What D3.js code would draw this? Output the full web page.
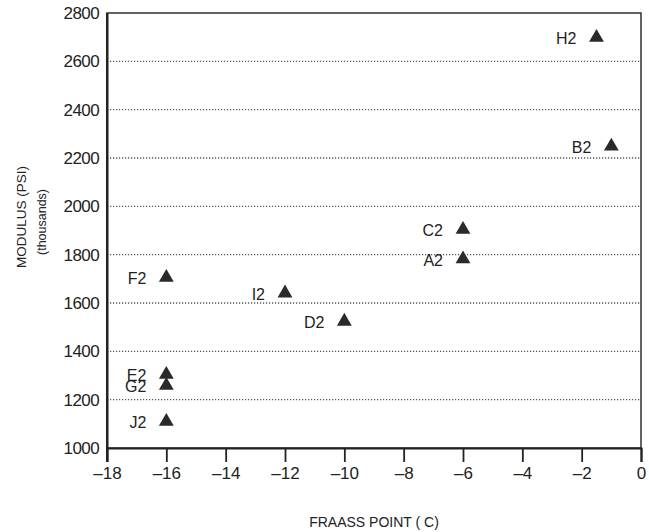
<!DOCTYPE html>
<html>
<head>
<meta charset="utf-8">
<script src="https://cdn.jsdelivr.net/npm/d3@7/dist/d3.min.js"></script>
<style>
  html, body { margin: 0; padding: 0; background: #fff; }
  svg { display: block; }
  text { font-family: "Liberation Sans", Arial, sans-serif; fill: #222; }
</style>
</head>
<body>
<svg id="chart" width="649" height="532"></svg>
<script>
// Sample names, Fraass breaking point (°C) and modulus (thousands of psi)
const samples  = ["H2", "B2", "C2", "A2", "F2", "I2", "D2", "E2", "G2", "J2"];
const fraass   = [-1.5, -1, -6, -6, -16, -12, -10, -16, -16, -16];
const modulus  = [2705, 2255, 1910, 1788, 1712, 1647, 1530, 1310, 1265, 1116];

const xTicks = [-18, -16, -14, -12, -10, -8, -6, -4, -2, 0];
const yTicks = [1000, 1200, 1400, 1600, 1800, 2000, 2200, 2400, 2600, 2800];
const gridValues = [1200, 1400, 1600, 1800, 2000, 2200, 2400, 2600];

const svg = d3.select("#chart");
const plotL = 107, plotR = 641, plotT = 13, plotB = 448;

const x = d3.scaleLinear().domain([-18, 0]).range([plotL, plotR]);
const y = d3.scaleLinear().domain([1000, 2800]).range([plotB, plotT]);

// dotted horizontal grid
svg.append("g")
  .selectAll("line")
  .data(gridValues)
  .join("line")
  .attr("x1", plotL).attr("x2", plotR)
  .attr("y1", d => y(d)).attr("y2", d => y(d))
  .attr("stroke", "#555")
  .attr("stroke-width", 1.3)
  .attr("stroke-dasharray", "1.2,1.8");

// frame
svg.append("rect")
  .attr("x", plotL).attr("y", plotT)
  .attr("width", plotR - plotL).attr("height", plotB - plotT)
  .attr("fill", "none").attr("stroke", "#222").attr("stroke-width", 1.4);

// x axis with downward ticks
const xAxis = d3.axisBottom(x)
  .tickValues(xTicks)
  .tickSize(14)
  .tickPadding(5)
  .tickFormat(d => d < 0 ? "\u2013" + Math.abs(d) : String(d));
const gx = svg.append("g").attr("transform", `translate(0,${plotB})`).call(xAxis);
gx.select(".domain").attr("stroke", "#222").attr("stroke-width", 2);
gx.selectAll(".tick line").attr("stroke", "#222").attr("stroke-width", 1.8);
gx.selectAll(".tick text")
  .attr("font-size", 17)
  .attr("font-family", "Liberation Sans, Arial, sans-serif")
  .attr("fill", "#222");

// left axis: labels only
const yAxis = d3.axisLeft(y)
  .tickValues(yTicks)
  .tickSize(0)
  .tickPadding(8)
  .tickFormat(d3.format("d"));
const gy = svg.append("g").attr("transform", `translate(${plotL},0)`).call(yAxis);
gy.select(".domain").attr("stroke", "#222").attr("stroke-width", 2);
gy.selectAll(".tick text")
  .attr("font-size", 17)
  .attr("letter-spacing", -0.6)
  .attr("font-family", "Liberation Sans, Arial, sans-serif")
  .attr("fill", "#222");

// left axis line extends down with the first tick
svg.append("line")
  .attr("x1", plotL).attr("x2", plotL)
  .attr("y1", plotT).attr("y2", plotB + 14)
  .attr("stroke", "#222").attr("stroke-width", 2);

// axis titles
svg.append("text")
  .attr("x", x(-9)).attr("y", 527)
  .attr("text-anchor", "middle")
  .attr("font-size", 14)
  .text("FRAASS POINT ( C)");

svg.append("text")
  .attr("transform", "translate(26,217) rotate(-90)")
  .attr("text-anchor", "middle")
  .attr("font-size", 13.5)
  .text("MODULUS (PSI)");
svg.append("text")
  .attr("transform", "translate(46,222) rotate(-90)")
  .attr("text-anchor", "middle")
  .attr("font-size", 12.5)
  .text("(thousands)");

// points
const data = samples.map((s, i) => ({ name: s, fx: fraass[i], mod: modulus[i] }));
const tri = d3.symbol().type(d3.symbolTriangle).size(95);

svg.append("g")
  .selectAll("path")
  .data(data)
  .join("path")
  .attr("d", tri)
  .attr("transform", d => `translate(${x(d.fx)},${y(d.mod) + 1.5})`)
  .attr("fill", "#2a2a2a");

svg.append("g")
  .selectAll("text")
  .data(data)
  .join("text")
  .attr("x", d => x(d.fx) - 20)
  .attr("y", d => y(d.mod) + 8)
  .attr("text-anchor", "end")
  .attr("font-size", 16)
  .text(d => d.name);
</script>
</body>
</html>
